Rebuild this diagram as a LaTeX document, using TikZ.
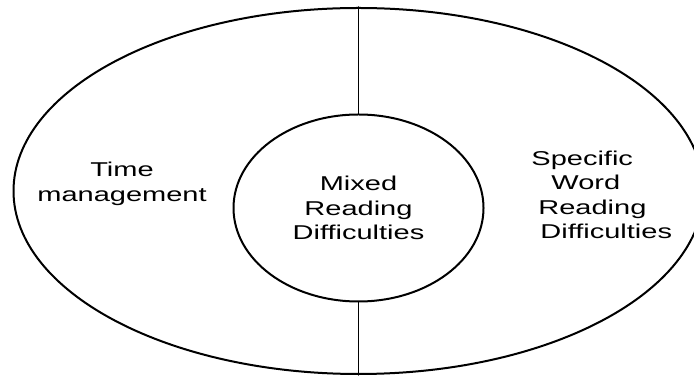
\documentclass[tikz,border=0pt]{standalone}
\usepackage{fontspec}
\setmainfont[FakeStretch=1.45]{Liberation Sans}
\usetikzlibrary{shapes.geometric}
\usetikzlibrary{positioning}

\begin{document}
\begin{tikzpicture}[x=0.5pt,y=-0.5pt,line cap=round,line join=round
  ,ring/.style={draw,ellipse,line width=1pt,inner sep=0pt}
  ,txt/.style={font=\fontsize{10}{12.25}\selectfont,inner sep=0pt}]
\useasboundingbox (0,0) rectangle (694,378);
\clip (0,0) rectangle (694,378);
\node[ring,minimum width=345pt,minimum height=183pt] (outer) at (358.5,191) {};
\node[ring,txt,minimum width=125pt,minimum height=93.5pt,align=center]
  (mixed) at (358.5,208) {Mixed\\Reading\\Difficulties};
\draw[line width=0.75pt] (outer.north) -- (mixed.north);
\draw[line width=0.75pt] (mixed.south) -- (outer.south);
\node[txt,align=center] (time) at (122,184) {Time\\management};
\node[txt,align=left,anchor=west] (specific) at (531,195)
  {Specific\\\hspace*{10pt}Word\\\hspace*{3.5pt}Reading\\\hspace*{4.5pt}Difficulties};
\end{tikzpicture}
\end{document}
